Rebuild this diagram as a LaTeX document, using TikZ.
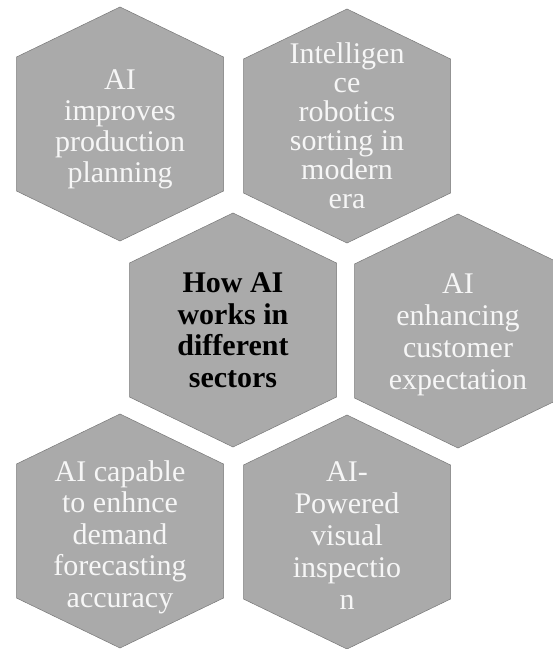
\documentclass[tikz,border=0pt]{standalone}
\usepackage{fontspec}
\setmainfont{Liberation Serif}
\usetikzlibrary{backgrounds}
\definecolor{hexfill}{RGB}{170,170,170}
\definecolor{hexedge}{RGB}{120,120,120}
\definecolor{hextext}{RGB}{246,246,246}
\begin{document}
\begin{tikzpicture}[x=1pt,y=-1pt,
  hextxt/.style={inner sep=0pt, align=center, text=hextext,
    font=\fontsize{30}{30}\selectfont},
  maintxt/.style={hextxt, text=black, font=\fontsize{30}{31.5}\selectfont\bfseries},
  hexpath/.style={fill=hexfill, draw=hexedge, line width=0.5pt}]
\useasboundingbox (0,0) rectangle (553,649);
\clip (0,0) rectangle (553,649);
\coordinate (c1) at (120,124);
\coordinate (c2) at (347,126);
\coordinate (c3) at (233,330);
\coordinate (c4) at (458,331);
\coordinate (c5) at (120,531);
\coordinate (c6) at (347,532);
\foreach \c in {c1,c2,c3,c4,c5,c6}{
  \filldraw[hexpath] (\c) +(0,-117) -- +(103.5,-67) -- +(103.5,67) -- +(0,117)
    -- +(-103.5,67) -- +(-103.5,-67) -- cycle;
}
\node[hextxt, font=\fontsize{30}{31}\selectfont] (h1) at ([yshift=-5pt]c1) {AI\\improves\\production\\planning};
\node[hextxt, font=\fontsize{30}{29}\selectfont] (h2) at (c2) {Intelligen\\ce\\robotics\\sorting in\\modern\\era};
\node[maintxt] (h3) at (c3) {How AI\\works in\\different\\sectors};
\node[hextxt, font=\fontsize{30}{32}\selectfont] (h4) at ([yshift=-4pt]c4) {AI\\enhancing\\customer\\expectation};
\node[hextxt, font=\fontsize{30}{31.5}\selectfont] (h5) at ([yshift=-6pt]c5) {AI capable\\to enhnce\\demand\\forecasting\\accuracy};
\node[hextxt, font=\fontsize{30}{32}\selectfont] (h6) at ([yshift=-4pt]c6) {AI-\\Powered\\visual\\inspectio\\n};
\end{tikzpicture}
\end{document}
